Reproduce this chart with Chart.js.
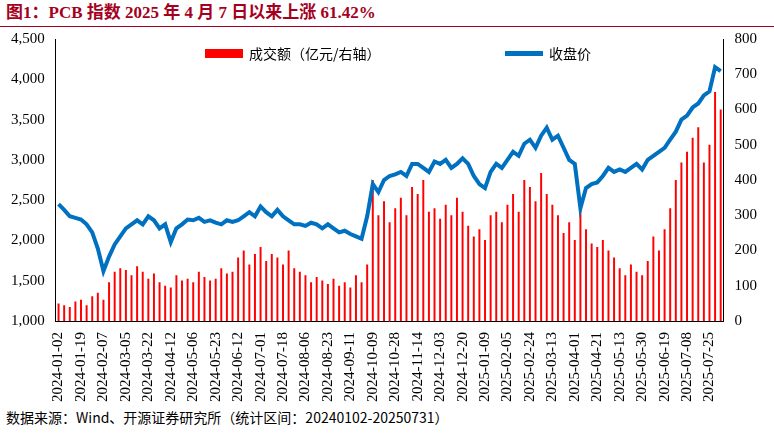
<!DOCTYPE html>
<html>
<head>
<meta charset="utf-8">
<script src="https://cdn.jsdelivr.net/npm/chart.js@4"></script>
<style>
  body { margin: 0; width: 774px; height: 435px; background: #fff; font-family: "Noto Sans CJK SC", "Liberation Serif", serif; }
  #title { height: 26px; line-height: 26px; padding-left: 6px; font-weight: bold; font-size: 17px; color: #A50021; border-bottom: 1.5px solid #A50021; font-family: "Liberation Serif", "Noto Sans CJK SC", serif; }
  #wrap { width: 774px; height: 378px; position: relative; }
  #legend { position: absolute; top: 16px; left: 0; width: 774px; font-size: 14px; }
  .item { position: absolute; display: flex; align-items: center; }
  .box { display: inline-block; width: 38px; margin-right: 6px; }
  #foot { font-size: 14px; padding-left: 6px; line-height: 24px; color: #000; }
</style>
</head>
<body>
<div id="title">图1：PCB 指数 2025 年 4 月 7 日以来上涨 61.42%</div>
<div id="wrap">
  <canvas id="c"></canvas>
  <div id="legend">
    <div class="item" style="left:205px"><span class="box" style="height:9px;background:#FF0000"></span>成交额（亿元/右轴）</div>
    <div class="item" style="left:505px"><span class="box" style="height:5px;background:#0070C0"></span>收盘价</div>
  </div>
</div>
<div id="foot">数据来源：Wind、开源证券研究所（统计区间：20240102-20250731）</div>
<script>
// tick labels, one every 4 points
const tickLabels = ["2024-01-02","2024-01-19","2024-02-07","2024-03-05","2024-03-22","2024-04-12","2024-05-06","2024-05-23","2024-06-12","2024-07-01","2024-07-18","2024-08-06","2024-08-23","2024-09-11","2024-10-09","2024-10-28","2024-11-14","2024-12-03","2024-12-20","2025-01-09","2025-02-05","2025-02-24","2025-03-13","2025-04-01","2025-04-21","2025-05-13","2025-05-30","2025-06-19","2025-07-08","2025-07-25"];

// 收盘价 (left axis)
const closePrice = [
  2450,2380,2300,2280, 2260,2200,2100,1900, 1620,1800,1950,2050, 2150,2200,2250,2200,
  2300,2250,2150,2200, 1980,2150,2200,2260, 2250,2280,2230,2250, 2220,2200,2250,2230,
  2250,2300,2350,2300, 2420,2350,2300,2380, 2300,2250,2200,2200, 2180,2220,2200,2150,
  2200,2150,2100,2120, 2080,2050,2020,2300, 2700,2600,2750,2800, 2820,2850,2800,2950,
  2950,2900,2850,2980, 2950,3000,2900,2950, 3020,2950,2800,2700, 2650,2850,2950,2900,
  3000,3100,3050,3200, 3250,3150,3300,3400, 3250,3300,3150,3000, 2950,2400,2650,2700,
  2720,2800,2900,2850, 2880,2850,2900,2950, 2880,3000,3050,3100, 3150,3250,3350,3500,
  3550,3650,3700,3800, 3850,4150,4100
];

// 成交额 (亿元, right axis)
const turnover = [
  50,45,40,55, 60,45,70,80, 60,110,140,150, 145,130,155,140,
  120,135,110,100, 95,130,115,120, 110,140,125,115, 120,150,135,140,
  180,200,160,190, 210,170,190,180, 160,200,150,140, 130,110,125,115,
  105,120,100,110, 95,130,110,160, 400,300,340,280, 320,350,300,380,
  360,400,310,320, 290,330,300,350, 310,270,240,260, 230,300,310,280,
  330,360,310,400, 380,340,420,360, 330,300,250,280, 230,340,260,220,
  210,230,200,180, 150,130,160,140, 130,170,240,200, 260,320,400,450,
  480,520,550,450, 500,650,600
];

const categories = [];
tickLabels.forEach((t) => { categories.push(t, "", "", ""); });
categories.length = closePrice.length;

new Chart(document.getElementById("c"), {
  data: {
    labels: categories,
    datasets: [
      { type: "bar", label: "成交额（亿元/右轴）", data: turnover, yAxisID: "y1",
        backgroundColor: "#FF0000", barPercentage: 0.35, categoryPercentage: 1, order: 2 },
      { type: "line", label: "收盘价", data: closePrice, yAxisID: "y",
        borderColor: "#0070C0", borderWidth: 4, pointRadius: 0, tension: 0, order: 1 }
    ]
  },
  options: {
    responsive: true, maintainAspectRatio: false, animation: false,
    layout: { padding: { top: 12, right: 14, left: 8 } },
    plugins: { legend: { display: false }, tooltip: { enabled: false } },
    scales: {
      x: { grid: { display: false }, border: { color: "#000" },
        ticks: { autoSkip: false, maxRotation: 90, minRotation: 90, color: "#000",
          font: { size: 15, family: "Liberation Serif" } } },
      y: { position: "left", min: 1000, max: 4500, grid: { display: false }, border: { color: "#000" },
        ticks: { stepSize: 500, color: "#000", font: { size: 15, family: "Liberation Serif" },
          callback: (v) => v.toLocaleString("en-US") } },
      y1: { position: "right", min: 0, max: 800, grid: { display: false }, border: { color: "#000" },
        ticks: { stepSize: 100, color: "#000", font: { size: 15, family: "Liberation Serif" } } }
    }
  }
});
</script>
</body>
</html>
